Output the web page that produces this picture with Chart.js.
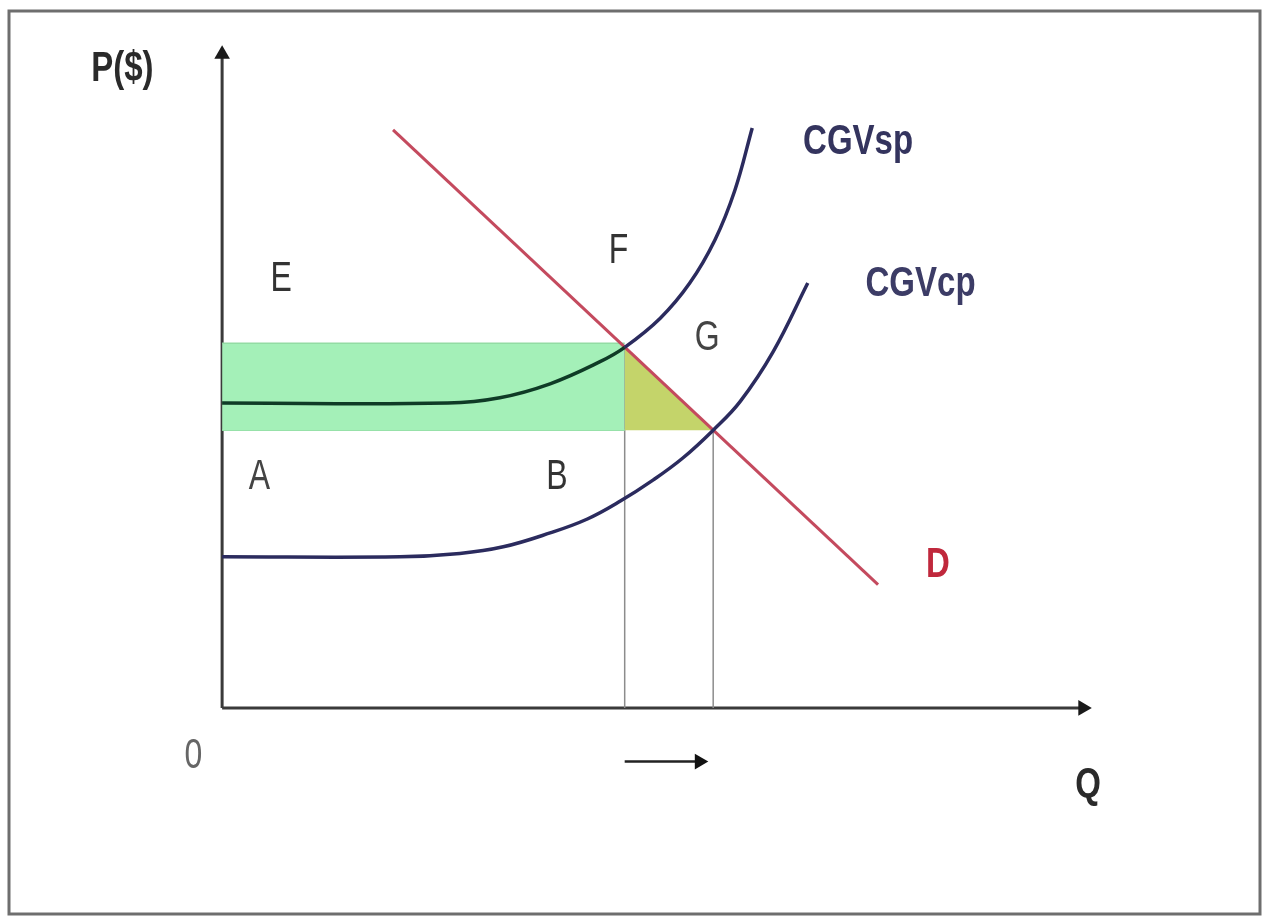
<!DOCTYPE html>
<html>
<head>
<meta charset="utf-8">
<script src="https://cdn.jsdelivr.net/npm/chart.js@4"></script>
<style>
  body { margin: 0; background: #fff; }
  canvas { display: block; }
</style>
</head>
<body>
<canvas id="grafico" width="1265" height="920"></canvas>
<script>
// curvas de costo (Q, P)
const cgvspQ = [0, 26.0, 32.0, 37.8, 43.5, 46.4, 50.5, 53.9, 56.8, 59.1, 61.1];
const cgvspP = [46.0, 46.0, 46.8, 48.9, 52.2, 54.4, 58.8, 64.1, 70.6, 78.1, 87.5];

const cgvcpQ = [0, 20.5, 27.4, 32.4, 37.8, 42.1, 45.9, 49.7, 53.1, 56.6, 59.7, 63.5, 67.5];
const cgvcpP = [22.8, 22.8, 23.3, 24.3, 26.4, 28.5, 31.2, 34.4, 37.7, 41.9, 46.2, 53.7, 64.1];

const demandaQ = [19.7, 75.6];
const demandaP = [87.2, 18.6];

// puntos F y G
const puntoF = { x: 46.4, y: 54.4 };
const puntoG = { x: 56.6, y: 41.9 };
const franjaTop = 55.0;

// ejes y flecha de desplazamiento
const ejeMax = { x: 99.2, y: 98.6 };
const flechaQ = [46.4, 55.0];
const flechaP = -8.1;

// etiquetas
const etiquetas = [
  { t: 'P($)', x: -11.5, y: 96.4, bold: true, color: '#2a2a2a' },
  { t: 'E', x: 6.8, y: 64.6, color: '#333' },
  { t: 'F', x: 45.7, y: 68.8, color: '#333' },
  { t: 'G', x: 55.9, y: 55.8, color: '#444' },
  { t: 'A', x: 4.3, y: 34.8, color: '#444' },
  { t: 'B', x: 38.6, y: 34.7, color: '#333' },
  { t: 'CGVsp', x: 73.3, y: 85.4, bold: true, color: '#34345e' },
  { t: 'CGVcp', x: 80.5, y: 64.0, bold: true, color: '#3c3c66' },
  { t: 'D', x: 82.5, y: 21.6, bold: true, color: '#c0283c' },
  { t: '0', x: -3.3, y: -7.4, color: '#666' },
  { t: 'Q', x: 99.8, y: -11.6, bold: true, color: '#2a2a2a' }
];

const pts = (qs, ps) => qs.map((q, i) => ({ x: q, y: ps[i] }));
const arrowRadius = n => ctx => ctx.dataIndex === n ? 9 : 0;

const fondoPlugin = {
  id: 'fondo',
  beforeDraw(chart) {
    const c = chart.ctx;
    c.save();
    c.fillStyle = '#fff';
    c.fillRect(0, 0, chart.width, chart.height);
    c.restore();
  },
  afterDraw(chart) {
    const c = chart.ctx;
    const sx = chart.scales.x, sy = chart.scales.y;
    c.save();
    c.strokeStyle = '#6e6e6e';
    c.lineWidth = 3;
    c.strokeRect(9, 11, 1251, 903);
    etiquetas.forEach(e => {
      c.save();
      c.translate(sx.getPixelForValue(e.x), sy.getPixelForValue(e.y));
      c.scale(1, 1.3);
      c.font = (e.bold ? 'bold 33px ' : '32px ') + '"Liberation Sans", Arial, sans-serif';
      c.fillStyle = e.color;
      c.textAlign = 'center';
      c.textBaseline = 'middle';
      c.fillText(e.t, 0, 0);
      c.restore();
    });
    c.restore();
  }
};

new Chart(document.getElementById('grafico'), {
  type: 'line',
  data: {
    datasets: [
      {
        // CGVsp
        data: pts(cgvspQ, cgvspP),
        borderColor: '#2b2b5e',
        borderWidth: 3.5,
        tension: 0.4,
        segment: { borderColor: ctx => ctx.p1.parsed.x <= puntoF.x + 0.01 ? '#0f3b26' : '#2b2b5e' },
        pointRadius: 0
      },
      {
        // CGVcp
        data: pts(cgvcpQ, cgvcpP),
        borderColor: '#2b2b5e',
        borderWidth: 3.5,
        tension: 0.4,
        pointRadius: 0
      },
      {
        // demanda
        data: pts(demandaQ, demandaP),
        borderColor: '#c44a5e',
        borderWidth: 3,
        pointRadius: 0
      },
      {
        // triangulo F-G
        data: [puntoF, puntoG],
        borderColor: 'rgba(0,0,0,0)',
        backgroundColor: '#c4d46a',
        fill: { value: puntoG.y },
        pointRadius: 0
      },
      {
        // franja verde
        data: [{ x: 0, y: franjaTop }, { x: puntoF.x, y: franjaTop }],
        borderColor: '#93dca4',
        borderWidth: 1.5,
        backgroundColor: '#a4f0b8',
        fill: { value: puntoG.y },
        pointRadius: 0
      },
      {
        data: [{ x: 0, y: puntoG.y }, { x: puntoF.x, y: puntoG.y }],
        borderColor: '#93dca4',
        borderWidth: 1.5,
        pointRadius: 0
      },
      {
        data: [{ x: puntoF.x, y: 0 }, puntoF],
        borderColor: '#8c8c8c',
        borderWidth: 1.5,
        pointRadius: 0
      },
      {
        data: [{ x: puntoG.x, y: 0 }, puntoG],
        borderColor: '#8c8c8c',
        borderWidth: 1.5,
        pointRadius: 0
      },
      {
        // eje P
        data: [{ x: 0, y: 0 }, { x: 0, y: ejeMax.y }],
        borderColor: '#3a3a3a',
        backgroundColor: '#1a1a1a',
        borderWidth: 3,
        pointStyle: 'triangle',
        pointRadius: arrowRadius(1),
        pointBorderWidth: 0
      },
      {
        // eje Q
        data: [{ x: 0, y: 0 }, { x: ejeMax.x, y: 0 }],
        borderColor: '#3a3a3a',
        backgroundColor: '#1a1a1a',
        borderWidth: 3,
        pointStyle: 'triangle',
        rotation: 90,
        pointRadius: arrowRadius(1),
        pointBorderWidth: 0
      },
      {
        // flecha desplazamiento
        data: flechaQ.map(q => ({ x: q, y: flechaP })),
        borderColor: '#222',
        backgroundColor: '#111',
        borderWidth: 2.5,
        pointStyle: 'triangle',
        rotation: 90,
        pointRadius: ctx => ctx.dataIndex === 1 ? 9 : 0,
        pointBorderWidth: 0
      }
    ]
  },
  options: {
    responsive: false,
    animation: false,
    layout: { padding: 0, autoPadding: false },
    plugins: { legend: { display: false }, tooltip: { enabled: false } },
    scales: {
      x: { type: 'linear', display: false, min: -25.6, max: 120.2 },
      y: { type: 'linear', display: false, min: -32.0, max: 106.8 }
    }
  },
  plugins: [fondoPlugin]
});
</script>
</body>
</html>
